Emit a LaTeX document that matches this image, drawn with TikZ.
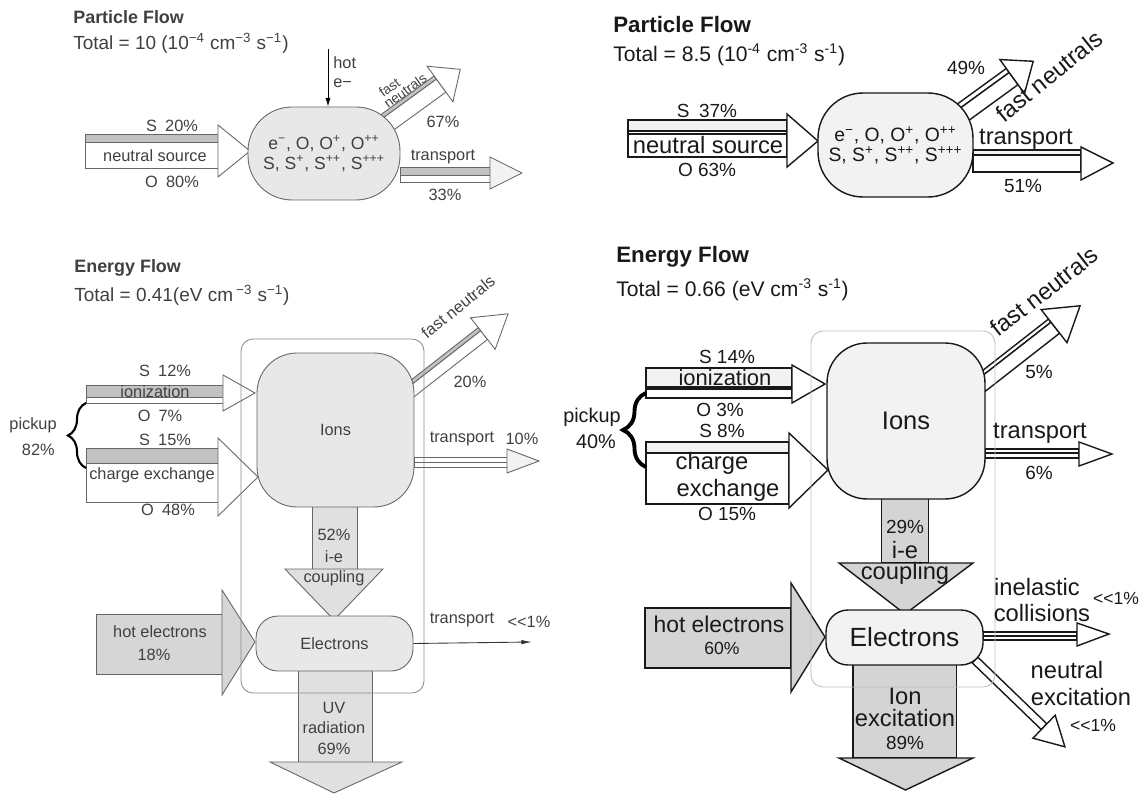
\documentclass[tikz,border=0pt]{standalone}
\usepackage{fontspec}
\setmainfont{Liberation Sans}
\usepackage{tikz}
\usetikzlibrary{arrows.meta,decorations.pathreplacing}

\definecolor{bandgray}{gray}{0.76}
\definecolor{blobgray}{gray}{0.91}
\definecolor{paleband}{gray}{0.95}
\definecolor{flowgray}{gray}{0.88}
\definecolor{hotgray}{gray}{0.84}
\definecolor{darkflow}{gray}{0.83}
\definecolor{framegray}{gray}{0.55}
\definecolor{lightframe}{gray}{0.75}
\definecolor{textgray}{gray}{0.25}

\begin{document}
\begin{tikzpicture}[x=0.02cm, y=-0.02cm,
  every node/.style={inner sep=0pt, text=textgray},
  lnL/.style={draw=black!60, line width=0.5pt},
  lnR/.style={draw=black!90, line width=0.8pt},
  ttlL/.style={font=\fontsize{10.2}{12}\selectfont\bfseries, anchor=west},
  totL/.style={font=\fontsize{10.8}{13}\selectfont, anchor=west},
  labL/.style={font=\fontsize{9.3}{11}\selectfont},
  tinyL/.style={font=\fontsize{7.8}{9}\selectfont},
  ttlR/.style={font=\fontsize{12.7}{15}\selectfont\bfseries, anchor=west, text=black!90},
  totR/.style={font=\fontsize{12}{14}\selectfont, anchor=west, text=black!90},
  labR/.style={font=\fontsize{13.5}{16}\selectfont, text=black!90},
  pctR/.style={font=\fontsize{10.8}{13}\selectfont, text=black!90},
  blobL/.style={lnL, fill=blobgray, align=center, font=\fontsize{9.3}{11}\selectfont},
  blobR/.style={lnR, fill=paleband, align=center, text=black!90},
  frameL/.style={draw=framegray, line width=0.5pt, rounded corners=0.24cm},
  frameR/.style={draw=lightframe, line width=0.5pt, rounded corners=0.24cm}
]
\useasboundingbox (0,0) rectangle (1144,794);

% Particle flow, left
\node[ttlL] (ptitleL) at (73,17) {Particle Flow};
\node[totL] (ptotalL) at (73,43) {Total = 10 (10\textsuperscript{−4} cm\textsuperscript{−3} s\textsuperscript{−1})};
\filldraw[lnL, fill=bandgray] (85,134) rectangle (218,142);
\filldraw[lnL, fill=white] (85,142) rectangle (218,168);
\filldraw[lnL, fill=white] (218,125) -- (250,151) -- (218,177) -- cycle;
\filldraw[lnL, fill=bandgray] (400,167) rectangle (490,175);
\filldraw[lnL, fill=white] (400,175) rectangle (490,182);
\filldraw[lnL, fill=paleband] (490,157) -- (522,173) -- (490,189) -- cycle;
\begin{scope}[shift={(385,124)}, rotate=36]
  \filldraw[lnL, fill=bandgray] (0,-10) rectangle (68,-6);
  \filldraw[lnL, fill=white] (0,-6) rectangle (68,10);
  \filldraw[lnL, fill=white] (68,-22) -- (93,0) -- (68,22) -- cycle;
  \node[tinyL, rotate=36] (fastPL) at (25,-27) {fast};
  \node[tinyL, rotate=36] (neutPL) at (36,-15) {neutrals};
\end{scope}
\node[blobL, minimum width=3.04cm, minimum height=1.86cm, rounded corners=0.88cm,
  font=\fontsize{10}{11.4}\selectfont] (partL) at (324,153.5)
  {e\textsuperscript{−}, O, O\textsuperscript{+}, O\textsuperscript{++}\\S, S\textsuperscript{+}, S\textsuperscript{++}, S\textsuperscript{+++}};
\node[labL] (s20) at (172,126) {S\enspace 20\%};
\node[labL] (nsrcL) at (155,156) {neutral source};
\node[labL] (o80) at (172,182) {O\enspace 80\%};
\node[labL, anchor=west] (hotL) at (333,63) {hot};
\node[labL, anchor=west] (eL) at (333,83) {e−};
\coordinate (hotTop) at (328,49);
\draw[black, line width=0.5pt, -{Latex[length=5pt,width=3pt]}] (hotTop) -- (hotTop |- partL.north);
\node[labL] (p67) at (443,122) {67\%};
\node[labL] (trPL) at (443,157) {transport};
\node[labL] (p33) at (445,195) {33\%};

% Particle flow, right
\node[ttlR] (ptitleR) at (613,25) {Particle Flow};
\node[totR] (ptotalR) at (613,55) {Total = 8.5 (10\textsuperscript{-4} cm\textsuperscript{-3} s\textsuperscript{-1})};
\filldraw[lnR, fill=paleband] (628,120) rectangle (787,131);
\filldraw[lnR, fill=white] (628,131) rectangle (787,134);
\filldraw[lnR, fill=white] (628,134) rectangle (787,157);
\filldraw[lnR, fill=white] (787,114) -- (818,141) -- (787,167) -- cycle;
\filldraw[lnR, fill=paleband] (973,150) rectangle (1081,155);
\filldraw[lnR, fill=white] (973,155) rectangle (1081,172);
\filldraw[lnR, fill=white] (1081,147) -- (1113,163) -- (1081,180) -- cycle;
\begin{scope}[shift={(962,113)}, rotate=36]
  \filldraw[lnR, fill=white] (0,-10) rectangle (62,-5);
  \filldraw[lnR, fill=white] (0,-5) rectangle (62,10);
  \filldraw[lnR, fill=white] (62,-21) -- (88,0) -- (62,21) -- cycle;
\end{scope}
\node[blobR, minimum width=3.1cm, minimum height=2.08cm, rounded corners=0.9cm,
  font=\fontsize{11}{11.4}\selectfont] (partR) at (895.5,145)
  {e\textsuperscript{−}, O, O\textsuperscript{+}, O\textsuperscript{++}\\S, S\textsuperscript{+}, S\textsuperscript{++}, S\textsuperscript{+++}};
\node[pctR] (s37) at (707,111) {S\enspace 37\%};
\node[labR] (nsrcR) at (708,145) {neutral source};
\node[pctR] (o63) at (707,170) {O 63\%};
\node[pctR] (p49) at (966,68) {49\%};
\node[labR, rotate=39] (fastPR) at (1049,76) {fast neutrals};
\node[labR] (trPR) at (1026,139) {transport};
\node[pctR] (p51) at (1023,186) {51\%};

% Energy flow, left
\node[ttlL] (etitleL) at (74,268) {Energy Flow};
\node[totL] (etotalL) at (74,295) {Total = 0.41(eV cm\,\textsuperscript{−3} s\textsuperscript{−1})};
\filldraw[lnL, fill=bandgray] (86,385) rectangle (223,397);
\filldraw[lnL, fill=white] (86,397) rectangle (223,403);
\filldraw[lnL, fill=white] (223,375) -- (255,393) -- (223,411) -- cycle;
\filldraw[lnL, fill=bandgray] (86,448) rectangle (218,463);
\filldraw[lnL, fill=white] (86,463) rectangle (218,502);
\filldraw[lnL, fill=white] (218,438) -- (258,477) -- (218,516) -- cycle;
\filldraw[lnL, fill=hotgray] (96,614) rectangle (222,674);
\filldraw[lnL, fill=hotgray] (222,590) -- (255,642) -- (222,695) -- cycle;
\filldraw[lnL, fill=white] (414,457) rectangle (507,462);
\filldraw[lnL, fill=white] (414,462) rectangle (507,467);
\filldraw[lnL, fill=paleband] (507,449) -- (539,461) -- (507,473) -- cycle;
\begin{scope}[shift={(408,392)}, rotate=38]
  \filldraw[lnL, fill=bandgray] (0,-7.5) rectangle (95,-3.5);
  \filldraw[lnL, fill=white] (0,-3.5) rectangle (95,7.5);
  \filldraw[lnL, fill=white] (95,-20) -- (127,0) -- (95,20) -- cycle;
\end{scope}
\filldraw[lnL, fill=flowgray] (312,500) rectangle (357,569);
\filldraw[lnL, fill=flowgray] (285,569) -- (334,620) -- (383,569) -- cycle;
\filldraw[lnL, fill=flowgray] (298,665) rectangle (372,762);
\filldraw[lnL, fill=flowgray] (270,762) -- (334,793) -- (402,762) -- cycle;
\draw[frameL] (241,339) rectangle (424,693);
\node[blobL, minimum width=3.14cm, minimum height=3.08cm, rounded corners=0.8cm] (ionsL) at (335.5,430) {Ions};
\node[blobL, minimum width=3.14cm, minimum height=1.1cm, rounded corners=0.44cm] (elecL) at (334.5,643.5) {Electrons};
\coordinate (trEnd) at (532,642);
\draw[black!80, line width=0.5pt, -{Latex[length=6pt,width=2.5pt]}] (elecL.east) -- (trEnd);
\draw[black, line width=1.2pt, decorate, decoration={brace, amplitude=0.36cm}] (86,468) -- (86,403);
\node[labL, anchor=east] (pickL) at (57,425) {pickup};
\node[labL, anchor=east] (p82) at (55,450) {82\%};
\node[labL] (s12) at (165,371) {S\enspace 12\%};
\node[labL] (ionzL) at (155,392) {ionization};
\node[labL] (o7) at (160,416) {O\enspace 7\%};
\node[labL] (s15) at (165,440) {S\enspace 15\%};
\node[labL] (cxL) at (152,475) {charge exchange};
\node[labL] (o48) at (168,510) {O\enspace 48\%};
\node[labL, rotate=39] (fastEL) at (458,307) {fast neutrals};
\node[labL] (p20) at (470,382) {20\%};
\node[labL] (trEL) at (462,439) {transport};
\node[labL] (p10) at (522,439) {10\%};
\node[labL] (p52) at (334,535) {52\%};
\node[labL] (ieL) at (334,557) {i-e};
\node[labL] (coupL) at (334,578) {coupling};
\node[labL] (hotEL) at (160,632) {hot electrons};
\node[labL] (p18) at (154,655) {18\%};
\node[labL] (trEL2) at (462,620) {transport};
\node[labL] (ll1L) at (529,622) {{<}{<}1\%};
\node[labL] (uvL) at (334,708) {UV};
\node[labL] (radL) at (334,728) {radiation};
\node[labL] (p69) at (334,749) {69\%};

% Energy flow, right
\node[ttlR] (etitleR) at (616,257) {Energy Flow};
\node[totR] (etotalR) at (616,290) {Total = 0.66 (eV cm\textsuperscript{-3} s\textsuperscript{-1})};
\filldraw[lnR, fill=paleband] (646,368) rectangle (792,387);
\filldraw[lnR, fill=white] (646,387) rectangle (792,389);
\filldraw[lnR, fill=white] (646,389) rectangle (792,398);
\filldraw[lnR, fill=white] (792,365) -- (825,384) -- (792,403) -- cycle;
\filldraw[lnR, fill=paleband] (646,442) rectangle (789,453);
\filldraw[lnR, fill=white] (646,453) rectangle (789,504);
\filldraw[lnR, fill=white] (789,433) -- (828,470) -- (789,508) -- cycle;
\filldraw[lnR, fill=darkflow] (645,608) rectangle (791,668);
\filldraw[lnR, fill=darkflow] (791,583) -- (825,637) -- (791,692) -- cycle;
\filldraw[lnR, fill=white] (985,449) rectangle (1079,453);
\filldraw[lnR, fill=white] (985,453) rectangle (1079,458);
\filldraw[lnR, fill=white] (1079,442) -- (1112,454) -- (1079,466) -- cycle;
\begin{scope}[shift={(980,384)}, rotate=38]
  \filldraw[lnR, fill=white] (0,-9) rectangle (94,-5);
  \filldraw[lnR, fill=white] (0,-5) rectangle (94,9);
  \filldraw[lnR, fill=white] (94,-21) -- (127,0) -- (94,21) -- cycle;
\end{scope}
\filldraw[lnR, fill=white] (983,632) rectangle (1077,636);
\filldraw[lnR, fill=white] (983,636) rectangle (1077,640);
\filldraw[lnR, fill=white] (1077,623) -- (1109,634) -- (1077,646) -- cycle;
\begin{scope}[shift={(975,660)}, rotate=-44]
  \filldraw[lnR, fill=white] (0,-4) rectangle (96,4);
  \filldraw[lnR, fill=white] (96,-16) -- (125,0) -- (96,16) -- cycle;
\end{scope}
\filldraw[lnR, fill=darkflow] (881.5,495) rectangle (928.5,563);
\filldraw[lnR, fill=darkflow] (839,563) -- (905,614) -- (973,563) -- cycle;
\filldraw[lnR, fill=darkflow] (853,660) rectangle (956.5,758);
\filldraw[lnR, fill=darkflow] (839,758) -- (905.5,790) -- (973,758) -- cycle;
\draw[frameR] (811,331) rectangle (995,687);
\node[blobR, minimum width=3.16cm, minimum height=3.12cm, rounded corners=0.8cm,
  font=\fontsize{14.5}{17}\selectfont] (ionsR) at (906,421) {Ions};
\node[blobR, minimum width=3.14cm, minimum height=1.1cm, rounded corners=0.44cm,
  font=\fontsize{15}{18}\selectfont] (elecR) at (904.5,637.5) {Electrons};
\draw[black, line width=2.2pt, decorate, decoration={brace, amplitude=0.46cm}] (646,467) -- (646,393);
\node[pctR, font=\fontsize{11.3}{13}\selectfont, anchor=east] (pickR) at (621,417) {pickup};
\node[pctR, font=\fontsize{11.3}{13}\selectfont] (p40) at (596,442) {40\%};
\node[pctR] (s14) at (727,357) {S 14\%};
\node[labR, font=\fontsize{12.5}{15}\selectfont] (ionzR) at (725,378) {ionization};
\node[pctR] (o3) at (720,410) {O 3\%};
\node[pctR] (s8) at (722,431) {S 8\%};
\node[labR] (chR) at (712,463) {charge};
\node[labR] (exR) at (728,490) {exchange};
\node[pctR] (o15) at (727,514) {O 15\%};
\node[labR, rotate=38] (fastER) at (1044,291.5) {fast neutrals};
\node[pctR] (p5) at (1039,372) {5\%};
\node[labR] (trER) at (1040,433) {transport};
\node[pctR] (p6) at (1039,473) {6\%};
\node[pctR] (p29) at (905,527) {29\%};
\node[labR] (ieR) at (905,550) {i-e};
\node[labR] (coupR) at (905,573) {coupling};
\node[labR, font=\fontsize{13}{15}\selectfont] (hotER) at (719,624) {hot electrons};
\node[pctR, font=\fontsize{10}{12}\selectfont] (p60) at (722,648) {60\%};
\node[labR] (inelR) at (1037,587) {inelastic};
\node[labR] (collR) at (1042,613) {collisions};
\node[pctR, font=\fontsize{10}{12}\selectfont] (ll1R) at (1116,598) {{<}{<}1\%};
\node[labR] (neutR) at (1067,670) {neutral};
\node[labR] (excR) at (1081,697) {excitation};
\node[pctR, font=\fontsize{10}{12}\selectfont] (ll2R) at (1093,725) {{<}{<}1\%};
\node[labR] (ionR) at (905,696) {Ion};
\node[labR] (exc2R) at (905,718) {excitation};
\node[pctR] (p89) at (905,743) {89\%};
\end{tikzpicture}
\end{document}
